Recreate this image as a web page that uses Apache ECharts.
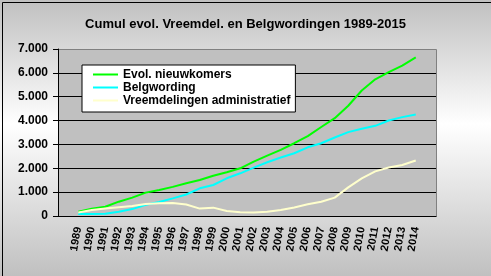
<!DOCTYPE html>
<html>
<head>
<meta charset="utf-8">
<script src="https://cdn.jsdelivr.net/npm/echarts@6/dist/echarts.min.js"></script>
<style>
  html, body { margin: 0; padding: 0; }
  #chart { width: 491px; height: 276px; }
</style>
</head>
<body>
<div id="chart"></div>
<script>
// one empty category either side, like the Excel original
const years = ['', '1989', '1990', '1991', '1992', '1993', '1994', '1995', '1996', '1997', '1998',
  '1999', '2000', '2001', '2002', '2003', '2004', '2005', '2006', '2007', '2008',
  '2009', '2010', '2011', '2012', '2013', '2014', ''];

const nieuwkomers = [null, 180, 300, 390, 600, 770, 980, 1090, 1220, 1370, 1510, 1690, 1835, 2000,
  2280, 2530, 2770, 3050, 3350, 3730, 4100, 4620, 5260, 5730, 6030, 6300, 6650, null];
const belgwording = [null, 80, 80, 90, 180, 290, 470, 590, 740, 900, 1160, 1300, 1580, 1790,
  2030, 2255, 2450, 2630, 2880, 3050, 3290, 3515, 3655, 3780, 4005, 4145, 4255, null];
const administratief = [null, 150, 250, 310, 370, 420, 500, 530, 545, 480, 310, 350, 210, 160,
  150, 180, 250, 360, 490, 600, 770, 1200, 1580, 1870, 2030, 2140, 2325, null];

const chart = echarts.init(document.getElementById('chart'));
const font = 'Liberation Sans, Arial, sans-serif';

function line(name, data, color) {
  return {
    name: name,
    type: 'line',
    data: data,
    symbol: 'none',
    lineStyle: { color: color, width: 2 },
    itemStyle: { color: color }
  };
}

chart.setOption({
  animation: false,
  backgroundColor: {
    type: 'linear', x: 0, y: 0, x2: 0, y2: 1,
    colorStops: [
      { offset: 0, color: '#c0c0c0' },
      { offset: 0.45, color: '#ffffff' },
      { offset: 1, color: '#c0c0c0' }
    ]
  },
  graphic: [{
    type: 'rect', left: 0, top: 0, z: 100,
    shape: { width: 490, height: 275 },
    style: { fill: null, stroke: '#000', lineWidth: 1 }
  }, {
    type: 'rect', left: 58, top: 49, z: -1,
    shape: { width: 378, height: 167 },
    style: { fill: '#c0c0c0', stroke: '#808080', lineWidth: 1 }
  }],
  title: {
    text: 'Cumul evol. Vreemdel. en Belgwordingen 1989-2015',
    left: 'center',
    top: 13,
    textStyle: { fontFamily: font, fontSize: 13, fontWeight: 'bold', color: '#000' }
  },
  legend: {
    orient: 'vertical',
    left: 82,
    top: 65,
    backgroundColor: '#fff',
    borderColor: '#000',
    borderWidth: 1,
    borderRadius: 0,
    padding: [3, 5, 5, 11],
    itemGap: 0,
    itemWidth: 25,
    itemHeight: 2,
    itemTextGap: 2,
    icon: 'rect',
    textStyle: { fontFamily: font, fontSize: 12, fontWeight: 'bold', color: '#000', lineHeight: 13 },
    data: ['Evol. nieuwkomers', 'Belgwording', 'Vreemdelingen administratief']
  },
  grid: { left: 58, top: 49, right: 55, bottom: 60, containLabel: false },
  xAxis: {
    type: 'category',
    data: years,
    axisLine: { lineStyle: { color: '#000' } },
    axisTick: { lineStyle: { color: '#000' }, length: 4 },
    axisLabel: {
      interval: 0, rotate: 80, margin: 11,
      fontFamily: font, fontSize: 11, fontWeight: 'bold', color: '#000'
    },
    splitLine: { show: false }
  },
  yAxis: {
    type: 'value',
    min: 0, max: 7000, interval: 1000,
    axisLine: { show: true, lineStyle: { color: '#000' } },
    axisTick: { show: true, lineStyle: { color: '#000' }, length: 5 },
    axisLabel: {
      margin: 10,
      fontFamily: font, fontSize: 12, fontWeight: 'bold', color: '#000',
      formatter: v => v.toLocaleString('de-DE')
    },
    splitLine: {
      lineStyle: { color: ['#000', '#000', '#000', '#000', '#000', '#000', '#000', '#808080'] }
    }
  },
  series: [
    line('Evol. nieuwkomers', nieuwkomers, '#00ff00'),
    line('Belgwording', belgwording, '#00ffff'),
    line('Vreemdelingen administratief', administratief, '#ffffcc')
  ]
});
</script>
</body>
</html>
